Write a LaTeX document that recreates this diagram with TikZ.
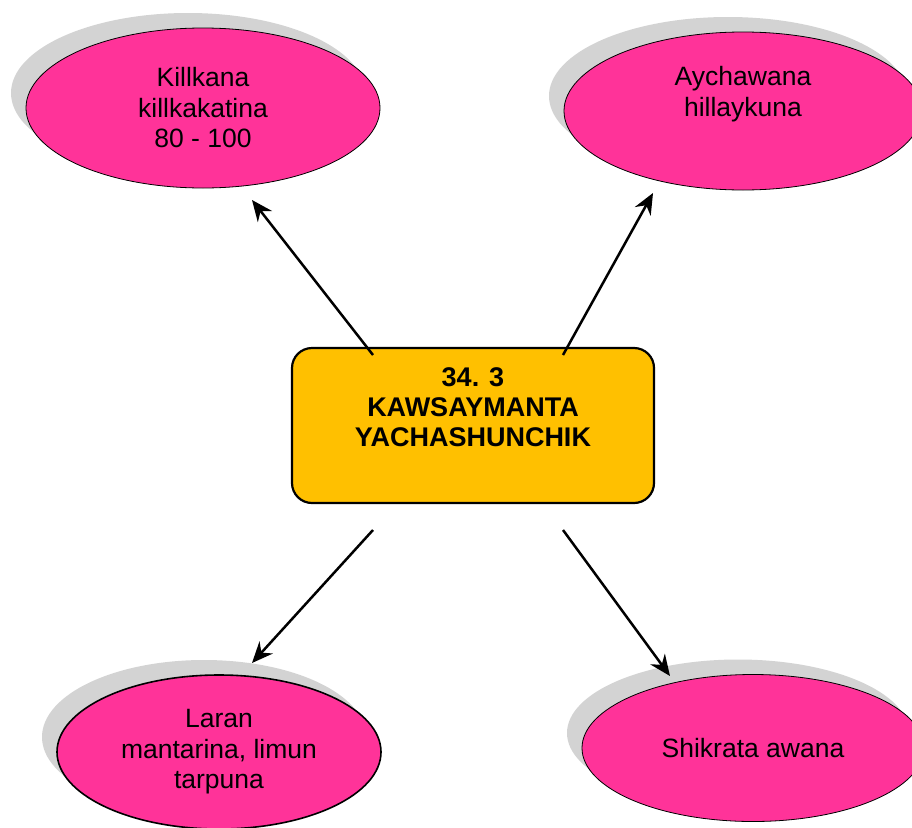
\documentclass[tikz,border=0pt]{standalone}
\usepackage{fontspec}
\setmainfont{Liberation Sans}
\usepackage{xcolor}
\usetikzlibrary{shapes.geometric,shadows,arrows.meta}

\definecolor{petal}{HTML}{FF3399}
\definecolor{gold}{HTML}{FFC000}
\definecolor{shade}{HTML}{D3D3D3}

\begin{document}
\begin{tikzpicture}[
            x = 1pt, y = -1pt, % one unit = one pixel
            > = {Stealth[length=21pt,width=18pt,inset=7pt]}, % arrow head style
            line width = 2.5pt, % line style
            bubble/.style = {shape=ellipse, draw=black, line width=0.8pt, fill=petal,
                inner sep=0pt, align=center, font=\fontsize{26.5}{30.5}\selectfont,
                drop shadow={shadow xshift=-15pt, shadow yshift=15pt, fill=shade, opacity=1}},
            topic/.style = {shape=rectangle, draw=black, line width=2.2pt, fill=gold,
                rounded corners=20pt, inner sep=0pt, align=center,
                font=\fontsize{27}{30}\selectfont\bfseries}
        ]
\useasboundingbox (0,0) rectangle (912,827);

\node[bubble, minimum width=354, minimum height=160] (F) at (203,108) {Killkana\\killkakatina\\80 - 100};
\node[bubble, minimum width=358, minimum height=158] (A) at (743,111) {Aychawana\\hillaykuna\\\strut};
\node[bubble, minimum width=324, minimum height=154, line width=1.6pt] (L) at (219,752) {Laran\\mantarina, limun\\tarpuna};
\node[bubble, minimum width=342, minimum height=147] (S) at (753,748) {Shikrata awana};

\node[topic, minimum width=362, minimum height=155, text depth=6pt] (K) at (473,425.5) {34. 3\\KAWSAYMANTA\\YACHASHUNCHIK\\\strut};

% arrow ends
\coordinate (Kf) at (373,355);
\coordinate (Ka) at (563,355);
\coordinate (Kl) at (373,530);
\coordinate (Ks) at (563,530);
\coordinate (Ft) at (252,200);
\coordinate (At) at (653,193);
\coordinate (Lt) at (252,663);
\coordinate (St) at (670,676);

 \path [->] (Kf) edge (Ft);
 \path [->] (Ka) edge (At);
 \path [->] (Kl) edge (Lt);
 \path [->] (Ks) edge (St);

\end{tikzpicture}
\end{document}
